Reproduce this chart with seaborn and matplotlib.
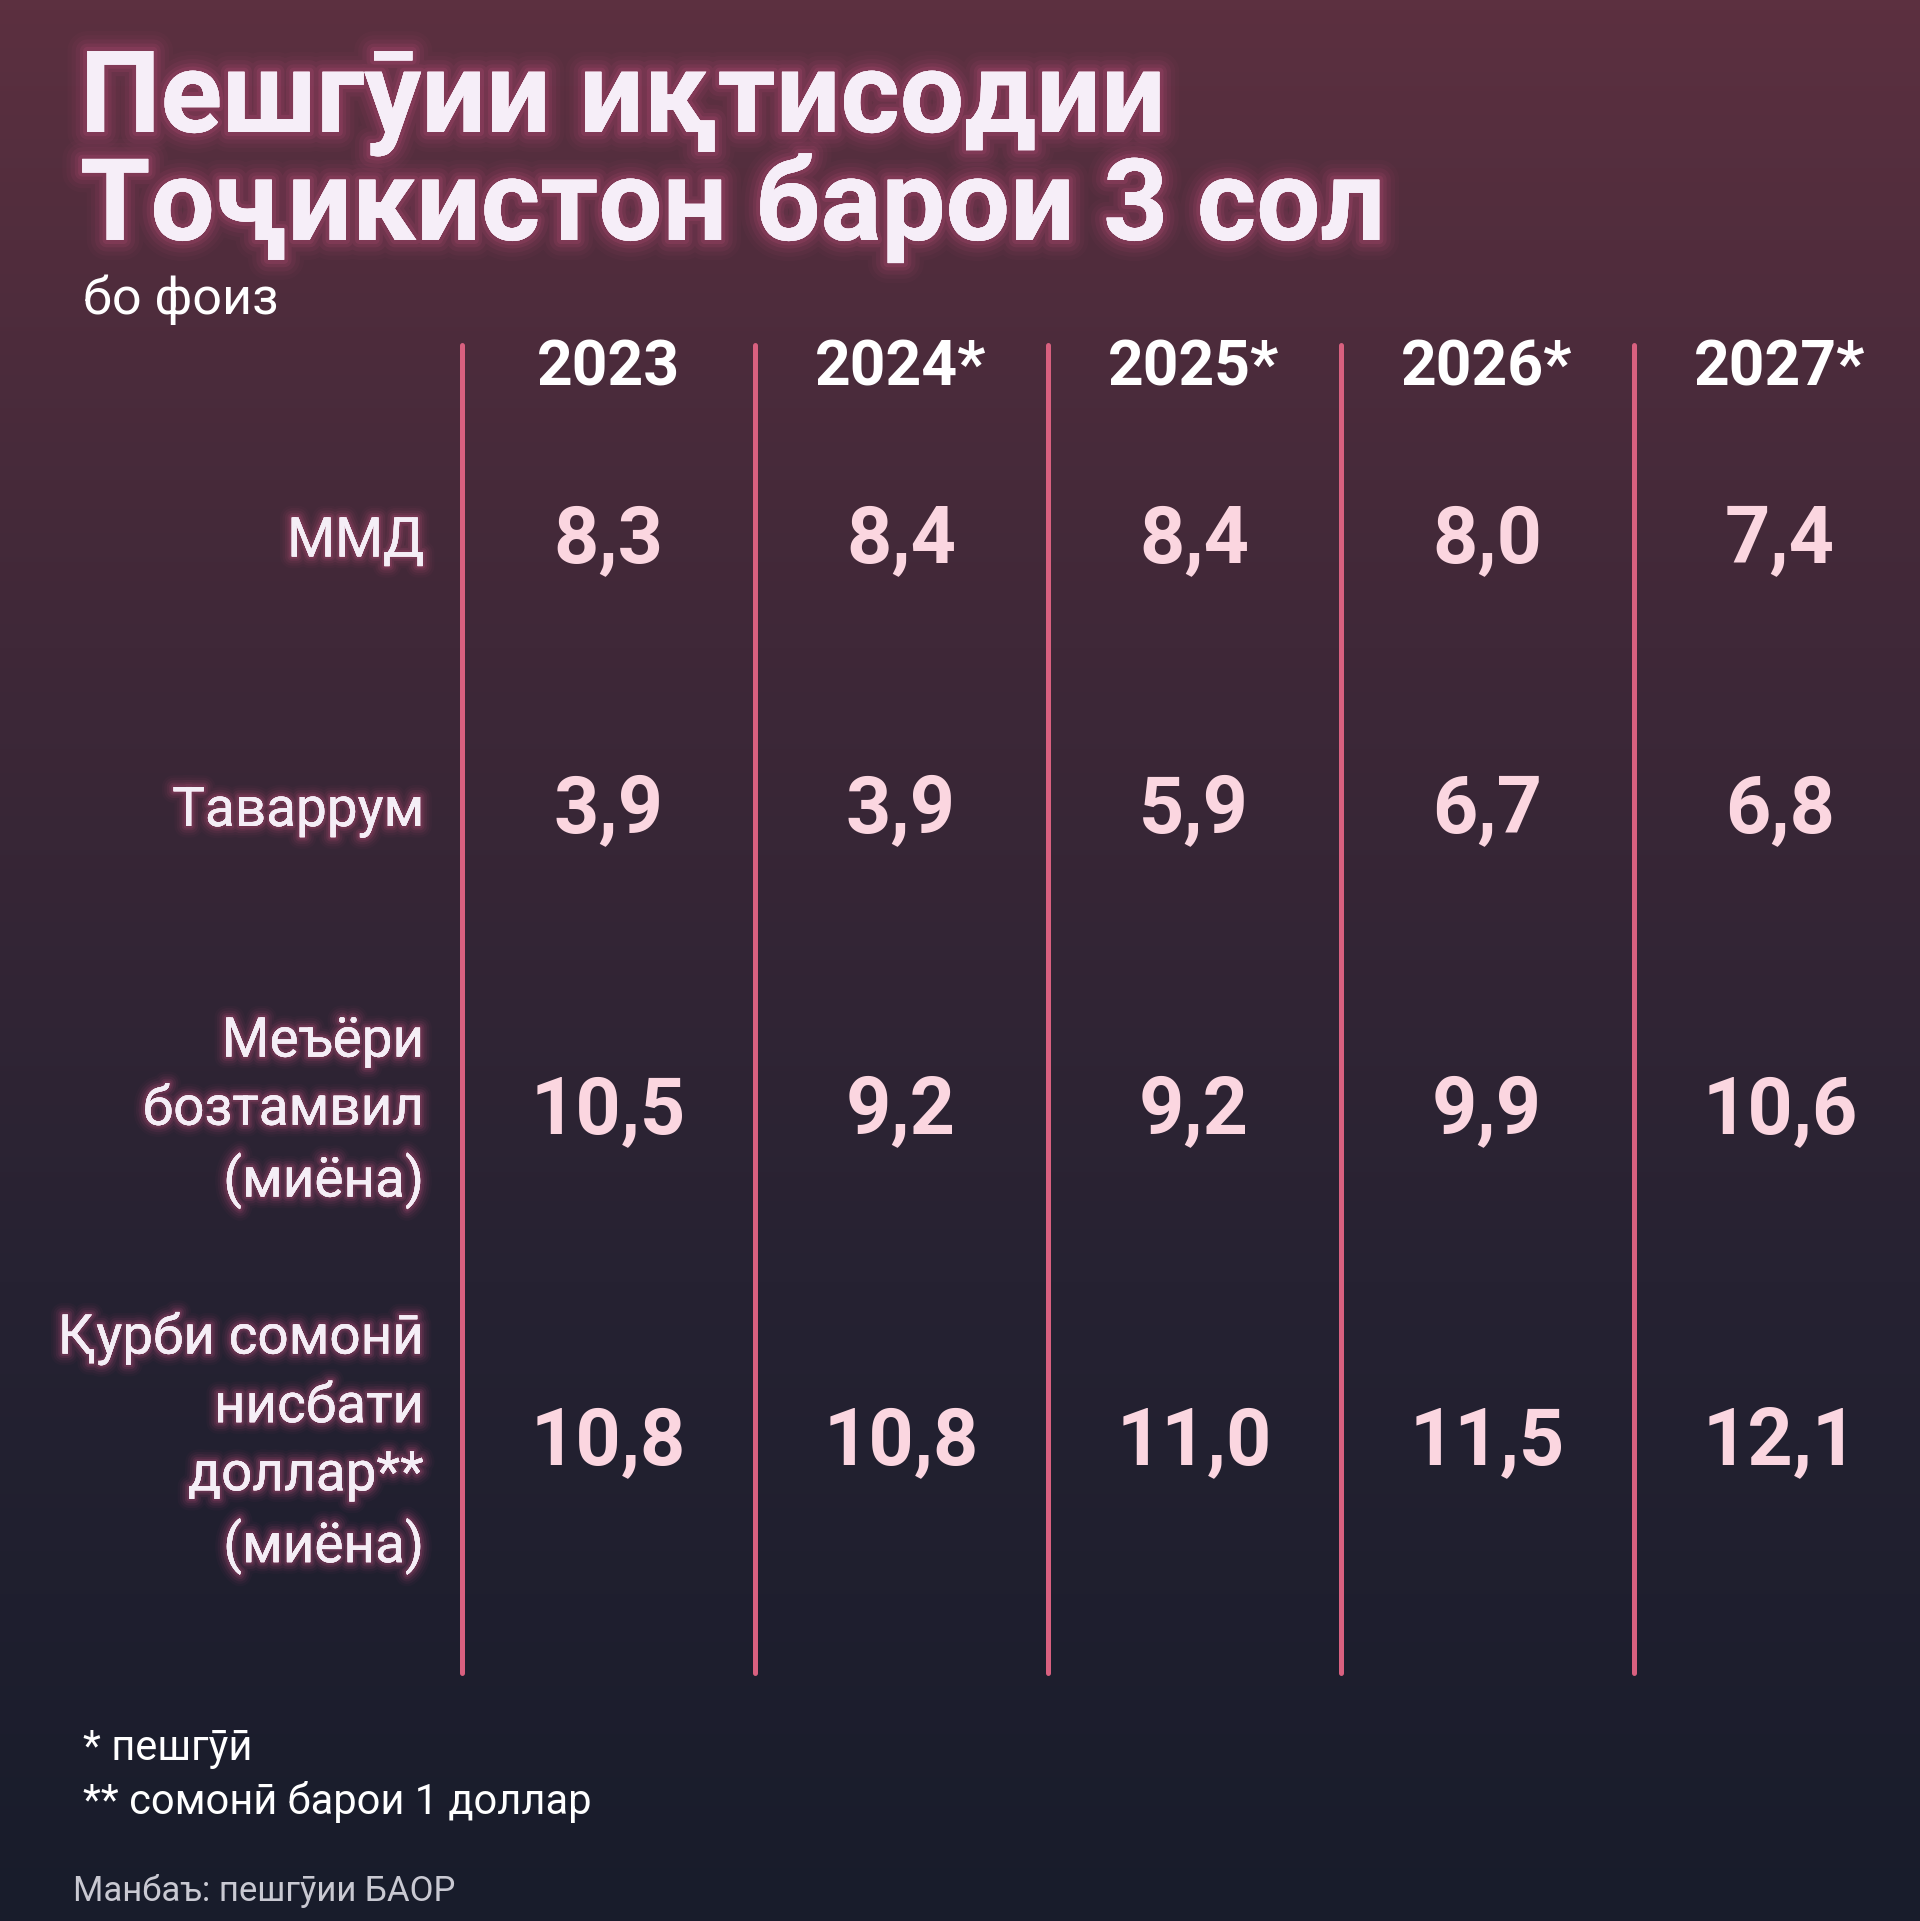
import numpy as np
import pandas as pd
import seaborn as sns
import matplotlib.pyplot as plt
import matplotlib.patheffects as pe
from matplotlib.colors import LinearSegmentedColormap

# %%
years = ['2023', '2024*', '2025*', '2026*', '2027*']
indicators = ['ММД', 'Таваррум', 'Меъёри\nбозтамвил\n(миёна)',
              'Қурби сомонӣ\nнисбати\nдоллар**\n(миёна)']
gdp = [8.3, 8.4, 8.4, 8.0, 7.4]
inflation = [3.9, 3.9, 5.9, 6.7, 6.8]
refinancing = [10.5, 9.2, 9.2, 9.9, 10.6]
somoni_usd = [10.8, 10.8, 11.0, 11.5, 12.1]

title = 'Пешгӯии иқтисодии\nТоҷикистон барои 3 сол'
unit = 'бо фоиз'
notes = '* пешгӯӣ\n** сомонӣ барои 1 доллар'
source = 'Манбаъ: пешгӯии БАОР'

df = pd.DataFrame([gdp, inflation, refinancing, somoni_usd],
                  index=indicators, columns=years)

# %%
sns.set_theme(style='white')
plt.rcParams['font.family'] = ['Roboto', 'DejaVu Sans']

W, H = 1920, 1921
fig = plt.figure(figsize=(W / 100, H / 100), dpi=100)
ax = fig.add_axes([0, 0, 1, 1])
ax.set_xlim(0, W)
ax.set_ylim(H, 0)
ax.axis('off')

# background gradient
cmap = LinearSegmentedColormap.from_list('bg', ['#5c3040', '#3f2838', '#262232', '#181c2b'])
grad = np.linspace(0, 1, 400).reshape(-1, 1)
ax.imshow(grad, cmap=cmap, extent=[0, W, H, 0], aspect='auto', zorder=0)

glow = '#c2507c'


def glow_fx(width):
    fx = []
    for k, a in [(2.4, 0.04), (1.9, 0.06), (1.4, 0.09), (0.9, 0.13), (0.5, 0.18)]:
        fx.append(pe.withStroke(linewidth=width * k, foreground=glow, alpha=a))
    fx.append(pe.Normal())
    return fx


# title
ax.text(80, 48, title, color='#f6eef8', fontsize=82, fontweight='bold',
        va='top', ha='left', linespacing=0.97, path_effects=glow_fx(12), zorder=3)
ax.text(83, 300, unit, color='white', fontsize=37.5, va='center', ha='left', zorder=3)

# grid layout
col_x0 = 608
col_step = 293
row_y = [541, 811, 1112, 1443]
head_y = 368

line_x = [col_x0 - col_step / 2 + i * col_step for i in range(len(years))]
ax.vlines(line_x, 345, 1673, color='#d8607f', linewidth=3.6, capstyle='round', zorder=2)

for i, yr in enumerate(years):
    ax.text(col_x0 + i * col_step, head_y, yr, color='white', fontsize=45,
            fontweight='bold', ha='center', va='center', zorder=3)

for j, name in enumerate(df.index):
    ax.text(424, row_y[j], name, color='#f4eef6', fontsize=39.5, ha='right',
            va='center', linespacing=1.36, path_effects=glow_fx(7), zorder=3)
    for i, yr in enumerate(df.columns):
        val = f'{df.loc[name, yr]:.1f}'.replace('.', ',')
        ax.text(col_x0 + i * col_step, row_y[j], val, color='#fbd6e0', fontsize=57,
                fontweight='bold', ha='center', va='center', zorder=3)

ax.text(83, 1728, notes, color='white', fontsize=30,
        va='top', ha='left', linespacing=1.35, zorder=3)
ax.text(73, 1891, source, color='#c9c9d2', fontsize=25, va='center', ha='left', zorder=3)

fig.savefig('out.png', dpi=100)
